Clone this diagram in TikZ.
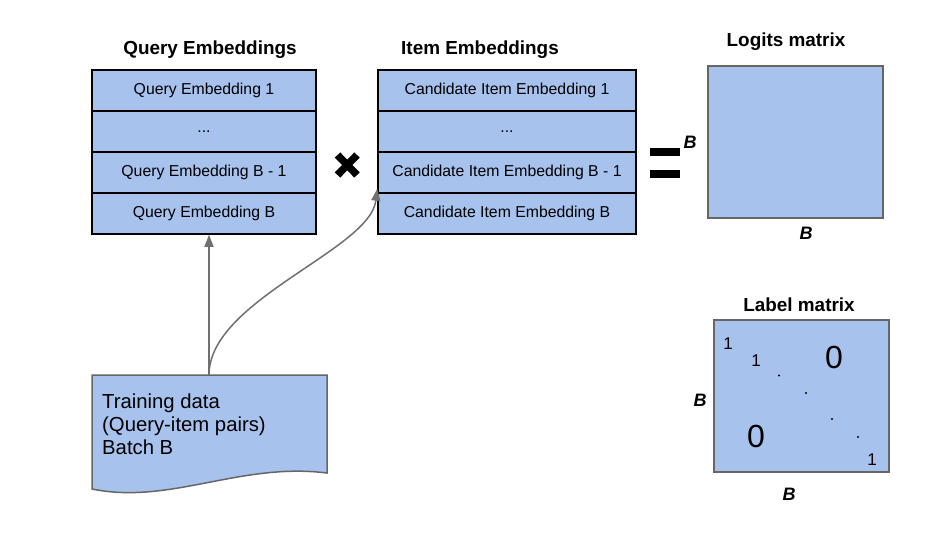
\documentclass[tikz,border=0pt]{standalone}
\usepackage{fontspec}
\setmainfont{Liberation Sans}
\usetikzlibrary{arrows.meta}
\definecolor{boxblue}{RGB}{168,194,238}
\definecolor{linegray}{RGB}{112,112,112}
\definecolor{bordergray}{RGB}{102,102,102}
\tikzset{
  rowbox/.style={draw=black, line width=1.5pt, fill=boxblue, minimum height=41pt, inner sep=0pt, font=\fontsize{15.8}{17}\selectfont},
  title/.style={font=\bfseries\fontsize{18.9}{20}\selectfont, inner sep=0pt},
  dimlab/.style={font=\bfseries\itshape\fontsize{18}{19}\selectfont, inner sep=0pt},
  matbox/.style={draw=bordergray, line width=1.5pt, fill=boxblue, inner sep=0pt},
  conn/.style={draw=linegray, line width=1.5pt, -{Triangle[length=12pt,width=9pt]}},
  small/.style={font=\fontsize{17}{18}\selectfont, inner sep=0pt},
  big/.style={font=\fontsize{32}{33}\selectfont, inner sep=0pt},
  dotn/.style={font=\fontsize{12}{12}\selectfont, inner sep=0pt}
}
\begin{document}
\begin{tikzpicture}[x=1pt,y=-1pt]
\useasboundingbox[fill=white] (0,0) rectangle (952,542);
% Query embeddings
\node[title] (qt) at (210,50) {Query Embeddings};
\node[rowbox, minimum width=224pt] (q1) at (204,90.5) {Query Embedding 1};
\node[rowbox, minimum width=224pt] (q2) at (204,131.5) {...};
\node[rowbox, minimum width=224pt] (q3) at (204,172.5) {Query Embedding B - 1};
\node[rowbox, minimum width=224pt] (q4) at (204,213.5) {Query Embedding B};
% Item embeddings
\node[title] (it) at (480,50) {Item Embeddings};
\node[rowbox, minimum width=258pt] (i1) at (507,90.5) {Candidate Item Embedding 1};
\node[rowbox, minimum width=258pt] (i2) at (507,131.5) {...};
\node[rowbox, minimum width=258pt] (i3) at (507,172.5) {Candidate Item Embedding B - 1};
\node[rowbox, minimum width=258pt] (i4) at (507,213.5) {Candidate Item Embedding B};
% times sign
\draw[line width=7.5pt] (337.5,155) -- (357,175);
\draw[line width=7.5pt] (337.5,175) -- (357,155);
% equals sign
\fill[black] (650,148) rectangle (680,156);
\fill[black] (650,170) rectangle (680,178);
% Logits matrix
\node[title] (lt) at (786,42) {Logits matrix};
\node[matbox, minimum width=175pt, minimum height=152pt] (lm) at (795.5,142) {};
\node[dimlab] (lb1) at (690,142) {B};
\node[dimlab] (lb2) at (806,233) {B};
% Label matrix
\node[title] (mt) at (799,305) {Label matrix};
\node[matbox, minimum width=175pt, minimum height=152pt] (mm) at (801.5,396) {};
\node[dimlab] (mb1) at (700,400) {B};
\node[dimlab] (mb2) at (789,494) {B};
\node[small] (o1) at (728,344) {1};
\node[small] (o2) at (756,361) {1};
\node[big] (z1) at (834,357) {0};
\node[big] (z2) at (756,436) {0};
\node[small] (o3) at (872,460) {1};
\fill (779,375.5) circle (1.2pt);
\fill (806,393) circle (1.2pt);
\fill (832,419) circle (1.2pt);
\fill (858,437) circle (1.2pt);
% Training data document
\path[draw=bordergray, line width=1.5pt, fill=boxblue]
  (92,375) -- (327,375) -- (327,473)
  .. controls (240,462) and (170,505) .. (92,489) -- cycle;
\node[anchor=north west, align=left, inner sep=0pt, font=\fontsize{20.3}{23}\selectfont] (td) at (102,394) {Training data\\(Query-item pairs)\\Batch B};
\coordinate (tdtop) at (209,375);
\coordinate (iend) at ([yshift=5pt]i3.south west);
% connectors
\draw[conn] (tdtop) -- (tdtop |- q4.south);
\draw[conn] (tdtop) .. controls (209,300) and (370,250) .. (iend);
\end{tikzpicture}
\end{document}
